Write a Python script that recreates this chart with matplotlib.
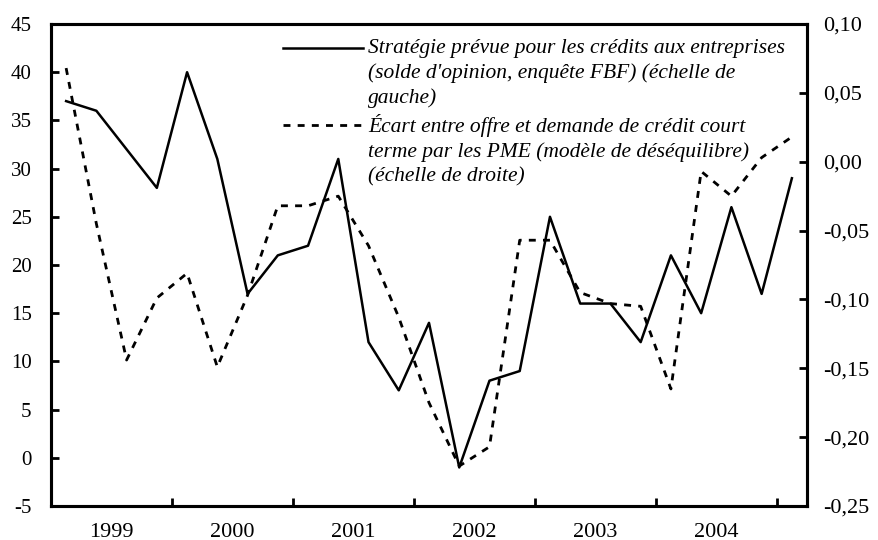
import numpy as np
import matplotlib
matplotlib.use('Agg')
import matplotlib.pyplot as plt
from matplotlib.legend_handler import HandlerLine2D
from matplotlib.ticker import FixedLocator, FuncFormatter, MultipleLocator

# Quarterly series, 1999 Q1 .. 2005 Q1
strategie = [37, 36, 32, 28, 40, 31, 17, 21, 22, 31, 12, 7, 14,
             -1, 8, 9, 25, 16, 16, 12, 21, 15, 26, 17, 29]
ecart = [0.068, -0.045, -0.144, -0.099, -0.081, -0.149, -0.097, -0.032,
         -0.032, -0.025, -0.061, -0.113, -0.175, -0.221, -0.207, -0.057,
         -0.057, -0.095, -0.103, -0.105, -0.165, -0.007, -0.025, 0.003, 0.018]
years = ['1999', '2000', '2001', '2002', '2003', '2004']

label_strat = ("Stratégie prévue pour les crédits aux entreprises\n"
               "(solde d'opinion, enquête FBF) (échelle de\ngauche)")
label_ecart = ("Écart entre offre et demande de crédit court\n"
               "terme par les PME (modèle de déséquilibre)\n(échelle de droite)")

plt.rcParams['font.family'] = ['Liberation Serif', 'DejaVu Serif']


class FirstLineHandler(HandlerLine2D):
    """Legend line drawn level with the first line of a multi-line label."""
    def __init__(self, shift, **kw):
        super().__init__(**kw)
        self.shift = shift

    def create_artists(self, legend, orig_handle, xdescent, ydescent,
                       width, height, fontsize, trans):
        arts = super().create_artists(legend, orig_handle, xdescent, ydescent,
                                      width, height, fontsize, trans)
        for a in arts:
            a.set_ydata(np.asarray(a.get_ydata()) + self.shift)
        return arts


def comma_fmt(v, nd):
    v = round(v, nd)
    if v == 0:
        v = 0.0
    return f"{v:.{nd}f}".replace('.', ',')


x = np.arange(len(strategie))

fig = plt.figure(figsize=(8.79, 5.40), dpi=100)
ax1 = fig.add_axes([51 / 879, 34 / 540, 756 / 879, 482 / 540])
ax2 = ax1.twinx()

l1, = ax1.plot(x, strategie, color='black', linewidth=1.8, label=label_strat)
l2, = ax2.plot(x, ecart, color='black', linewidth=2.0,
               linestyle=(0, (2.5, 2.6)), label=label_ecart)

ax1.set_xlim(-0.5, len(strategie) - 0.5)
ax1.set_ylim(-5, 45)
ax1.yaxis.set_major_locator(MultipleLocator(5))
ax1.yaxis.set_major_formatter(FuncFormatter(lambda v, p: f"{v:.0f}"))
ax2.set_ylim(-0.25, 0.10)
ax2.yaxis.set_major_locator(FixedLocator(np.linspace(-0.25, 0.10, 8)))
ax2.yaxis.set_major_formatter(FuncFormatter(lambda v, p: comma_fmt(v, 2)))

# year boundaries get tick marks, year names sit in the middle of each group
ax1.xaxis.set_major_locator(FixedLocator(np.arange(3.5, len(strategie), 4)))
ax1.xaxis.set_major_formatter(FuncFormatter(lambda v, p: ''))
ax1.xaxis.set_minor_locator(FixedLocator(np.arange(1.5, 4 * len(years), 4)))
ax1.xaxis.set_minor_formatter(FuncFormatter(lambda v, p: years[p] if p < len(years) else ''))

for ax in (ax1, ax2):
    for sp in ax.spines.values():
        sp.set_linewidth(2.2)
ax1.tick_params(axis='x', which='major', direction='in', length=5.5, width=2)
ax1.tick_params(axis='x', which='minor', length=0, pad=12, labelsize=16)
ax1.tick_params(axis='y', direction='in', length=5.5, width=2, pad=14, labelsize=15)
ax2.tick_params(axis='y', direction='in', length=5.5, width=2, pad=11.5, labelsize=16)

leg = ax1.legend([l1, l2], [label_strat, label_ecart],
                 loc='upper left', bbox_to_anchor=(0.307, 0.969),
                 frameon=False, borderpad=0, borderaxespad=0,
                 handlelength=3.7, handletextpad=0.25, labelspacing=0.25,
                 prop={'style': 'italic', 'size': 15.5},
                 handler_map={l1: FirstLineHandler(18),
                              l2: FirstLineHandler(18)})
for t in leg.get_texts():
    t.set_linespacing(1.37)

fig.savefig('out.png', dpi=100)
